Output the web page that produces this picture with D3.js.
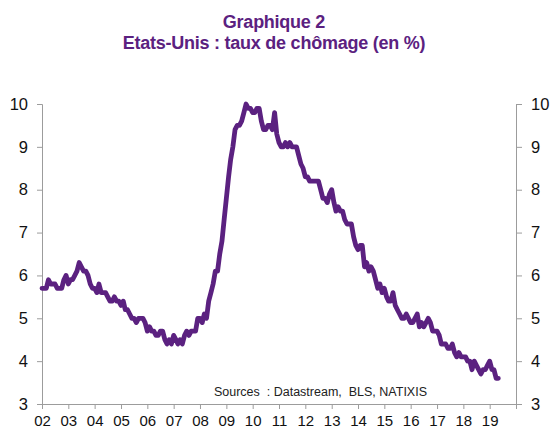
<!DOCTYPE html>
<html>
<head>
<meta charset="utf-8">
<script src="https://cdn.jsdelivr.net/npm/d3@7"></script>
<style>
  body { margin: 0; background: #fff; }
  text { font-family: "Liberation Sans", Arial, sans-serif; }
</style>
</head>
<body>
<div id="chart"></div>
<script>

// US unemployment rate, monthly, Jan 2002 -> May 2019 (%)
var years = ["02","03","04","05","06","07","08","09","10","11","12","13","14","15","16","17","18","19"];
var startYear = 2002;

var rate = [
	5.7,5.7,5.7,5.9,5.8,5.8,5.8,5.7,5.7,5.7,5.9,6.0,
	5.8,5.9,5.9,6.0,6.1,6.3,6.2,6.1,6.1,6.0,5.8,5.7,
	5.7,5.6,5.8,5.6,5.6,5.6,5.5,5.4,5.4,5.5,5.4,5.4,
	5.3,5.4,5.2,5.2,5.1,5.0,5.0,4.9,5.0,5.0,5.0,4.9,
	4.7,4.8,4.7,4.7,4.6,4.6,4.7,4.7,4.5,4.4,4.5,4.4,
	4.6,4.5,4.4,4.5,4.4,4.6,4.7,4.6,4.7,4.7,4.7,5.0,
	5.0,4.9,5.1,5.0,5.4,5.6,5.8,6.1,6.1,6.5,6.8,7.3,
	7.8,8.3,8.7,9.0,9.4,9.5,9.5,9.6,9.8,10.0,9.9,9.9,
	9.8,9.8,9.9,9.9,9.6,9.4,9.4,9.5,9.5,9.4,9.8,9.3,
	9.1,9.0,9.0,9.1,9.0,9.1,9.0,9.0,9.0,8.8,8.6,8.5,
	8.3,8.3,8.2,8.2,8.2,8.2,8.2,8.0,7.8,7.8,7.7,7.9,
	8.0,7.7,7.5,7.6,7.5,7.5,7.3,7.2,7.2,7.2,6.9,6.7,
	6.6,6.7,6.7,6.2,6.3,6.1,6.2,6.1,5.9,5.7,5.8,5.6,
	5.7,5.5,5.4,5.4,5.6,5.3,5.2,5.1,5.0,5.0,5.1,5.0,
	4.9,4.9,5.0,5.1,4.8,4.9,4.8,4.9,5.0,4.9,4.7,4.7,
	4.7,4.6,4.4,4.4,4.4,4.3,4.3,4.4,4.2,4.1,4.2,4.1,
	4.1,4.1,4.0,4.0,3.8,4.0,3.9,3.8,3.7,3.8,3.8,3.9,
	4.0,3.8,3.8,3.6,3.6
];

var yTicks = [3,4,5,6,7,8,9,10];

var titleLines = ["Graphique 2", "Etats-Unis : taux de chômage (en %)"];
var sourceText = "Sources  : Datastream,  BLS, NATIXIS";

function draw() {

	var width = 551;
	var height = 435;
	var margin = {top: 104, right: 35, bottom: 31, left: 42};
	var purple = "#5b2180";
	var axisGrey = "#9c9c9c";

	var svg = d3.select("#chart")
		.append("svg")
		.attr("width", width)
		.attr("height", height);

	var data = rate.map(function(v, i) {
		return {date: new Date(startYear, i, 1), value: v};
	});

	var x = d3.scaleTime()
		.domain([new Date(startYear, 0, 1), new Date(startYear + years.length, 0, 1)])
		.range([margin.left, width - margin.right]);

	var y = d3.scaleLinear()
		.domain([3, 10])
		.range([height - margin.bottom, margin.top]);

	// title
	svg.selectAll("text.title")
		.data(titleLines)
		.enter()
		.append("text")
		.attr("class", "title")
		.attr("x", 274)
		.attr("y", function(d, i) { return 27.5 + i * 21; })
		.attr("text-anchor", "middle")
		.attr("fill", purple)
		.style("font-size", "18px")
		.style("font-weight", "bold")
		.style("letter-spacing", "-0.25px")
		.text(function(d) { return d; });

	// left axis
	var yLeft = svg.append("g")
		.attr("transform", "translate(" + margin.left + ",0)")
		.call(d3.axisLeft(y).tickValues(yTicks).tickSize(5).tickPadding(9).tickFormat(d3.format("d")));

	// right axis
	var yRight = svg.append("g")
		.attr("transform", "translate(" + (width - margin.right) + ",0)")
		.call(d3.axisRight(y).tickValues(yTicks).tickSize(6).tickPadding(9).tickFormat(d3.format("d")));

	// x axis
	var xTicks = years.map(function(d, i) { return new Date(startYear + i, 0, 1); });
	xTicks.push(new Date(startYear + years.length, 0, 1));

	var xAxis = svg.append("g")
		.attr("transform", "translate(0," + (height - margin.bottom) + ")")
		.call(d3.axisBottom(x)
			.tickValues(xTicks)
			.tickSize(5)
			.tickPadding(6)
			.tickFormat(function(d, i) { return years[i] || ""; }));

	[yLeft, yRight, xAxis].forEach(function(g) {
		g.select(".domain").attr("stroke", axisGrey);
		g.selectAll(".tick line").attr("stroke", axisGrey);
		g.selectAll(".tick text")
			.attr("fill", "#111")
			.style("font-size", "16.5px")
			.style("font-family", "'Liberation Sans', Arial, sans-serif");
	});
	xAxis.selectAll(".tick text").style("font-size", "15px");

	// series
	var line = d3.line()
		.x(function(d) { return x(d.date); })
		.y(function(d) { return y(d.value); });

	svg.append("path")
		.datum(data)
		.attr("d", line)
		.attr("fill", "none")
		.attr("stroke", purple)
		.attr("stroke-width", 4.8)
		.attr("stroke-linejoin", "round")
		.attr("stroke-linecap", "round");

	// source
	svg.append("text")
		.attr("x", 320.5)
		.attr("y", 396)
		.attr("text-anchor", "middle")
		.attr("fill", "#222")
		.style("font-size", "12.5px")
		.style("white-space", "pre")
		.text(sourceText);
}

draw();
</script>
</body>
</html>
